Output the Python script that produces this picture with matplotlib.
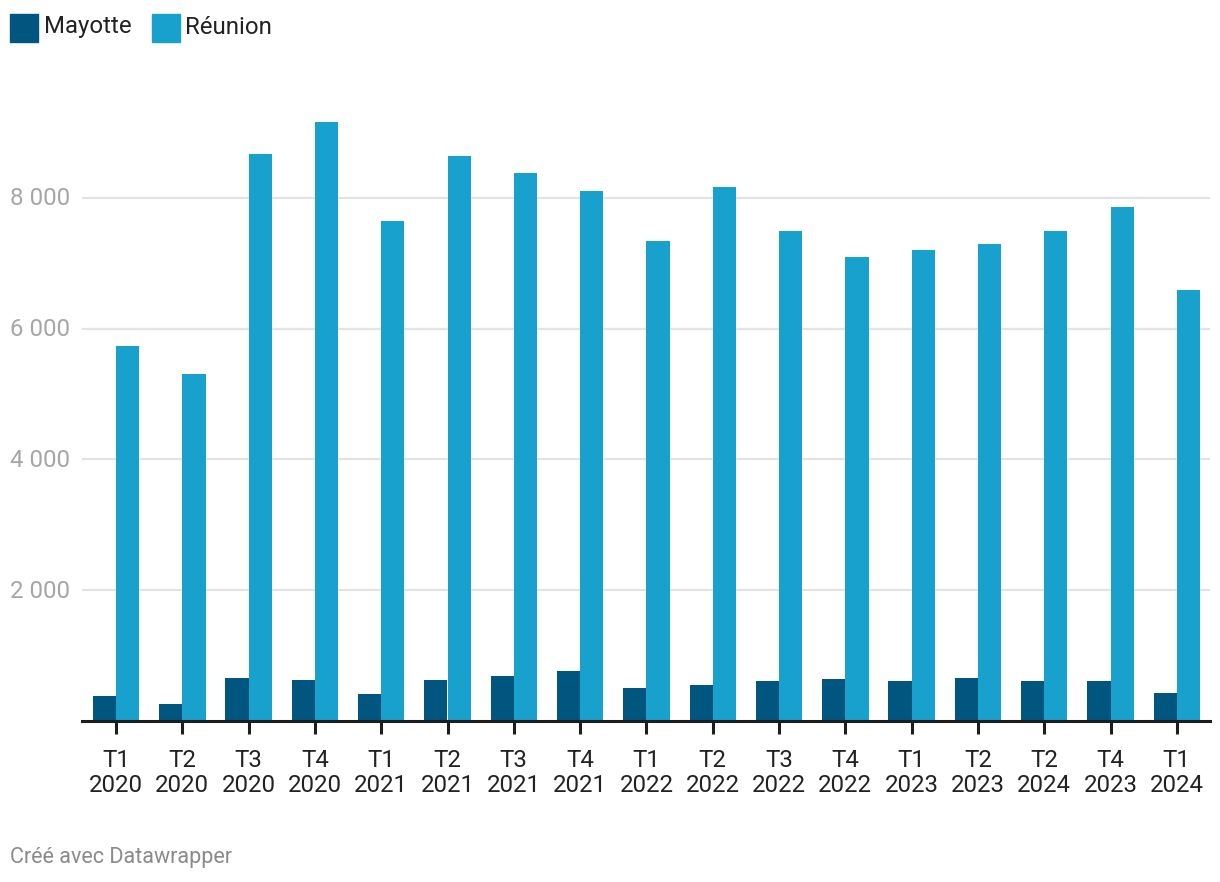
import matplotlib
matplotlib.use("Agg")
import matplotlib.pyplot as plt
import numpy as np
from matplotlib.patches import Rectangle

plt.rcParams['font.family'] = ['Roboto', 'DejaVu Sans']

categories = ["T1\n2020", "T2\n2020", "T3\n2020", "T4\n2020",
              "T1\n2021", "T2\n2021", "T3\n2021", "T4\n2021",
              "T1\n2022", "T2\n2022", "T3\n2022", "T4\n2022",
              "T1\n2023", "T2\n2023", "T2\n2024", "T4\n2023", "T1\n2024"]
mayotte = [382, 260, 657, 627, 413, 627, 688, 765, 505, 550, 612, 642,
           612, 657, 612, 612, 428]
reunion = [5734, 5306, 8670, 9159, 7645, 8639, 8379, 8104, 7339, 8165,
           7492, 7095, 7202, 7294, 7492, 7859, 6590]
yticks = [2000, 4000, 6000, 8000]
ytick_labels = ["2 000", "4 000", "6 000", "8 000"]

W, H = 1220, 882
fig = plt.figure(figsize=(W / 100, H / 100), dpi=100)

left, right, top, bottom = 82, 1210, 100, 721
ax = fig.add_axes([left / W, 1 - bottom / H, (right - left) / W, (bottom - top) / H])

spacing = 66.3
x = np.arange(len(categories))
bw = 23.2 / spacing
c_may = "#00567e"
c_reu = "#18a1cd"
ax.bar(x - bw / 2, mayotte, width=bw, color=c_may, zorder=3, linewidth=0)
ax.bar(x + bw / 2, reunion, width=bw, color=c_reu, zorder=3, linewidth=0)

ax.set_xlim((left - 116) / spacing, (right - 116) / spacing)
ymax = (bottom - top) / 0.0654
ax.set_ylim(0, ymax)

for s in ["top", "right", "left"]:
    ax.spines[s].set_visible(False)
ax.spines["bottom"].set_color("#1d1d1d")
ax.spines["bottom"].set_linewidth(2.2)
ax.spines["bottom"].set_zorder(4)

fs = 17.3
ax.set_xticks(x)
ax.set_xticklabels(categories, fontsize=fs, color="#222222", linespacing=1.12)
ax.tick_params(axis="x", length=9, width=2.2, color="#1d1d1d", pad=11)

ax.set_yticks(yticks)
ax.set_yticklabels([])
ax.tick_params(axis="y", length=0)
for v, lab in zip(yticks, ytick_labels):
    ax.axhline(v, color="#e3e3e3", linewidth=1.6, zorder=1)
    fig.text(70 / W, 1 - (bottom - v * 0.0654 + 1) / H, lab,
             ha="right", va="center", fontsize=fs, color="#a6a6a6")

fig.patches.append(Rectangle((10 / W, 1 - 42 / H), 28 / W, 28 / H,
                             transform=fig.transFigure, color=c_may))
fig.text(44 / W, 1 - 27 / H, "Mayotte", ha="left", va="center", fontsize=fs, color="#222222")
fig.patches.append(Rectangle((152 / W, 1 - 42 / H), 28 / W, 28 / H,
                             transform=fig.transFigure, color=c_reu))
fig.text(185 / W, 1 - 27 / H, "Réunion", ha="left", va="center", fontsize=fs, color="#222222")

fig.text(10 / W, 1 - 857 / H, "Créé avec Datawrapper", ha="left", va="center",
         fontsize=15.5, color="#8a8a8a")

fig.savefig("out.png", dpi=100)
